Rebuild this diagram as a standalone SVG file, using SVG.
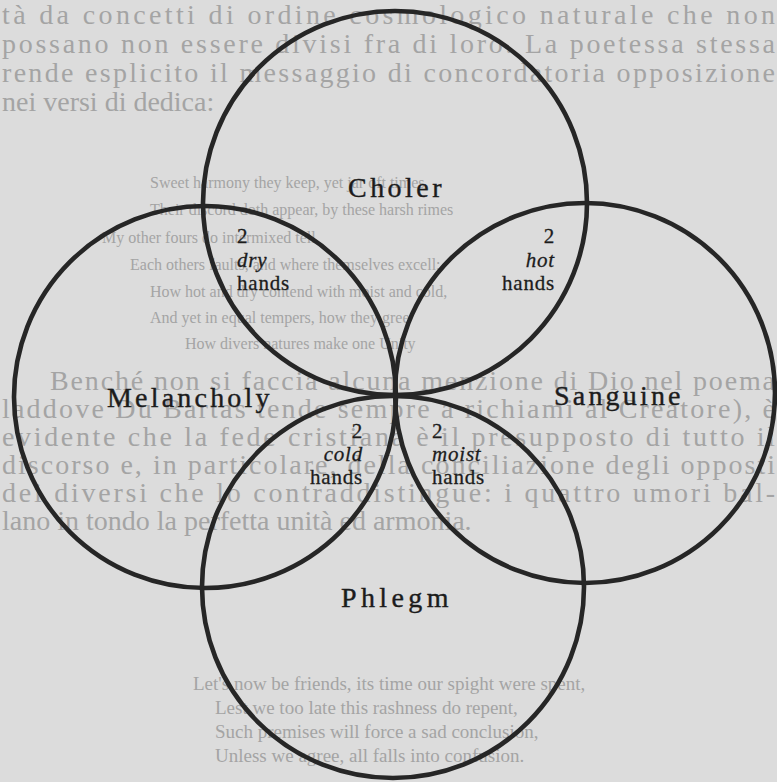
<svg xmlns="http://www.w3.org/2000/svg" width="777" height="782" viewBox="0 0 777 782">
<style>
.bg{fill:#dcdcdc}
.ghost{font-family:"Liberation Serif","Times New Roman",serif;fill:#a4a4a4}
.para{font-size:28px}
.verse{font-size:16px}
.verse2{font-size:19px}
.ring{fill:none;stroke:#262626;stroke-width:4.6}
.big{font-family:"Liberation Serif","Times New Roman",serif;font-size:28px;fill:#1c1c1c;stroke:#1c1c1c;stroke-width:0.4;letter-spacing:3.5px}
.small{font-family:"Liberation Serif","Times New Roman",serif;font-size:21px;fill:#1c1c1c;stroke:#1c1c1c;stroke-width:0.3;letter-spacing:0.8px}
.it{font-style:italic}
.end{text-anchor:end}
</style>
<rect class="bg" x="0" y="0" width="777" height="782"/>
<g id="page-text" class="ghost">
<text class="para" x="2" y="24" textLength="773" lengthAdjust="spacing">tà da concetti di ordine cosmologico naturale che non</text>
<text class="para" x="2" y="53" textLength="773" lengthAdjust="spacing">possano non essere divisi fra di loro. La poetessa stessa</text>
<text class="para" x="2" y="82" textLength="773" lengthAdjust="spacing">rende esplicito il messaggio di concordatoria opposizione</text>
<text class="para" x="2" y="111">nei versi di dedica:</text>
<text class="verse" x="150" y="188">Sweet harmony they keep, yet jar oft times</text>
<text class="verse" x="150" y="215">Their discord doth appear, by these harsh rimes</text>
<text class="verse" x="102" y="243">My other fours do intermixed tell</text>
<text class="verse" x="130" y="270">Each others faults, and where themselves excell;</text>
<text class="verse" x="150" y="297">How hot and dry contend with moist and cold,</text>
<text class="verse" x="150" y="323">And yet in equal tempers, how they gree</text>
<text class="verse" x="185" y="349">How divers natures make one Unity</text>
<text class="para" x="50" y="390" textLength="725" lengthAdjust="spacing">Benché non si faccia alcuna menzione di Dio nel poema</text>
<text class="para" x="2" y="418" textLength="773" lengthAdjust="spacing">laddove Du Bartas tende sempre a richiami al Creatore), è</text>
<text class="para" x="2" y="446" textLength="773" lengthAdjust="spacing">evidente che la fede cristiana è il presupposto di tutto il</text>
<text class="para" x="2" y="474" textLength="773" lengthAdjust="spacing">discorso e, in particolare, della conciliazione degli opposti</text>
<text class="para" x="2" y="502" textLength="773" lengthAdjust="spacing">dei diversi che lo contraddistingue: i quattro umori bal-</text>
<text class="para" x="2" y="530">lano in tondo la perfetta unità ed armonia.</text>
<text class="verse2" x="193" y="690">Let's now be friends, its time our spight were spent,</text>
<text class="verse2" x="215" y="714">Lest we too late this rashness do repent,</text>
<text class="verse2" x="215" y="738">Such premises will force a sad conclusion,</text>
<text class="verse2" x="215" y="762">Unless we agree, all falls into confusion.</text>
</g>
<g id="choler">
<circle class="ring" cx="395" cy="203" r="192"/>
<text class="big" x="348" y="197" textLength="97" lengthAdjust="spacing">Choler</text>
</g>
<g id="melancholy">
<circle class="ring" cx="205" cy="397" r="191"/>
<text class="big" x="107" y="407" textLength="166" lengthAdjust="spacing">Melancholy</text>
</g>
<g id="sanguine">
<circle class="ring" cx="585" cy="393" r="190"/>
<text class="big" x="554" y="405" textLength="130" lengthAdjust="spacing">Sanguine</text>
</g>
<g id="phlegm">
<circle class="ring" cx="393" cy="587" r="191"/>
<text class="big" x="341" y="607" textLength="111" lengthAdjust="spacing">Phlegm</text>
</g>
<g id="dry">
<text class="small" x="237" y="243">2</text>
<text class="small it" x="237" y="267">dry</text>
<text class="small" x="237" y="290">hands</text>
</g>
<g id="hot">
<text class="small end" x="555" y="243">2</text>
<text class="small it end" x="555" y="267">hot</text>
<text class="small end" x="555" y="290">hands</text>
</g>
<g id="cold">
<text class="small end" x="363" y="438">2</text>
<text class="small it end" x="363" y="461">cold</text>
<text class="small end" x="363" y="484">hands</text>
</g>
<g id="moist">
<text class="small" x="432" y="438">2</text>
<text class="small it" x="432" y="461">moist</text>
<text class="small" x="432" y="484">hands</text>
</g>
</svg>
